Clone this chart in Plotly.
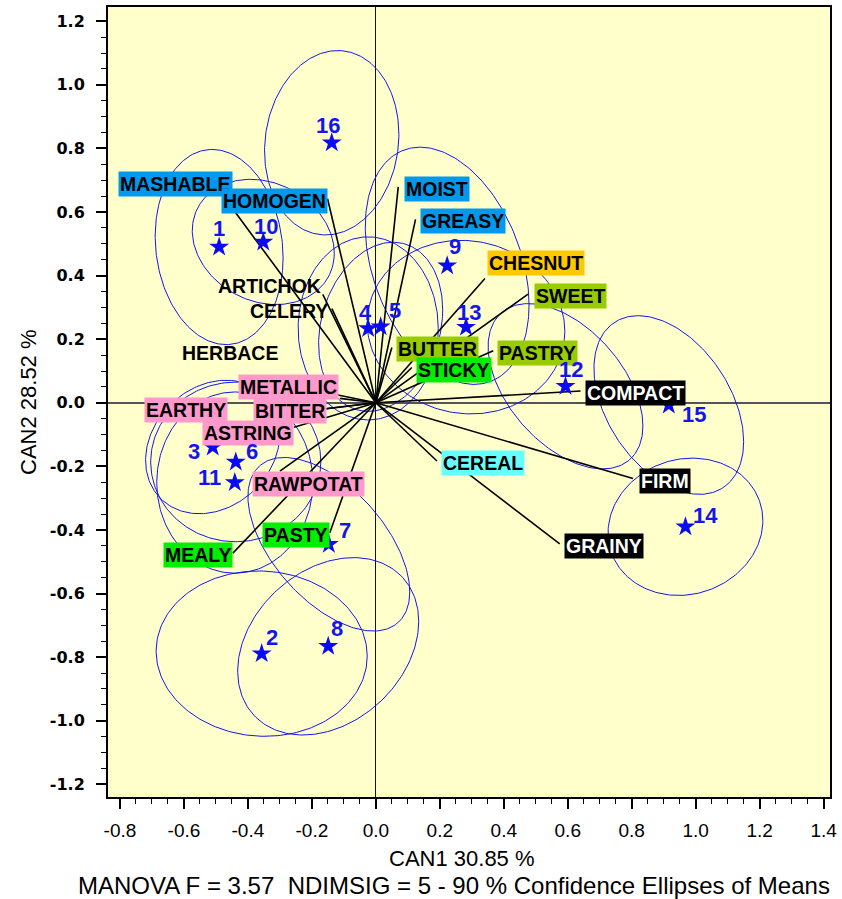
import numpy as np
import plotly.graph_objects as go

# product means on the two canonical axes
products = ['1', '2', '3', '4', '5', '6', '7', '8', '9', '10', '11', '12', '13', '14', '15', '16']
can1 = [-0.490, -0.357, -0.510, -0.024, 0.015, -0.438, -0.147, -0.149,
        0.223, -0.352, -0.441, 0.593, 0.282, 0.968, 0.916, -0.138]
can2 = [0.490, -0.789, -0.139, 0.234, 0.239, -0.186, -0.445, -0.766,
        0.431, 0.506, -0.251, 0.052, 0.238, -0.390, -0.007, 0.818]

# 90 % confidence ellipses: half width (CAN1), half height (CAN2), correlation
ell_w = [0.200, 0.330, 0.210, 0.219, 0.194, 0.266, 0.253, 0.283,
         0.256, 0.222, 0.244, 0.242, 0.309, 0.242, 0.234, 0.210]
ell_h = [0.307, 0.260, 0.210, 0.288, 0.266, 0.251, 0.273, 0.279,
         0.373, 0.197, 0.285, 0.260, 0.273, 0.216, 0.281, 0.290]
ell_r = [-0.11, -0.03, 0.20, 0.00, 0.20, 0.00, -0.55, 0.28,
         -0.33, -0.18, 0.00, -0.48, -0.05, 0.09, -0.41, 0.09]

# sensory attributes (structure coefficients)
attributes = ['MASHABLE', 'HOMOGEN', 'MOIST', 'GREASY', 'CHESNUT', 'SWEET', 'BUTTER',
              'STICKY', 'PASTRY', 'COMPACT', 'FIRM', 'GRAINY', 'CEREAL', 'ARTICHOK',
              'CELERY', 'HERBACE', 'METALLIC', 'BITTER', 'EARTHY', 'ASTRING',
              'RAWPOTAT', 'MEALY', 'PASTY']
vec1 = [-0.467, -0.151, 0.070, 0.124, 0.341, 0.476, 0.050, 0.1125, 0.367, 0.640,
        0.804, 0.575, 0.191, -0.166, -0.1375, -0.2375, -0.1125, -0.153, -0.269,
        -0.256, -0.300, -0.447, -0.144]
vec2 = [0.637, 0.642, 0.679, 0.577, 0.391, 0.342, 0.174, 0.111, 0.164, 0.037,
        -0.238, -0.444, -0.183, 0.341, 0.296, 0.049, 0.014, -0.018, -0.033,
        -0.077, -0.215, -0.473, -0.409]

x_ticks = [-0.8, -0.6, -0.4, -0.2, 0.0, 0.2, 0.4, 0.6, 0.8, 1.0, 1.2, 1.4]
x_labels = ['-0.8', '-0.6', '-0.4', '-0.2', '0.0', '0.2', '0.4', '0.6', '0.8', '1.0', '1.2', '1.4']
y_ticks = [1.2, 1.0, 0.8, 0.6, 0.4, 0.2, 0.0, -0.2, -0.4, -0.6, -0.8, -1.0, -1.2]
y_labels = ['1.2', '1.0', '0.8', '0.6', '0.4', '0.2', '0.0', '-0.2', '-0.4', '-0.6', '-0.8', '-1.0', '-1.2']

x_title = 'CAN1 30.85 %'
y_title = 'CAN2 28.52 %'
caption = 'MANOVA F = 3.57  NDIMSIG = 5 - 90 % Confidence Ellipses of Means'

# label styling
BLUE, ORANGE, OLIVE, GREEN = '#0099EE', '#FFC800', '#99CC00', '#00EE00'
CYAN, PINK, BLACK = '#66FFFF', '#FF99CC', '#000000'
label_bg = {'MASHABLE': BLUE, 'HOMOGEN': BLUE, 'MOIST': BLUE, 'GREASY': BLUE,
            'CHESNUT': ORANGE, 'SWEET': OLIVE, 'BUTTER': OLIVE, 'PASTRY': OLIVE,
            'STICKY': GREEN, 'PASTY': GREEN, 'MEALY': GREEN, 'CEREAL': CYAN,
            'COMPACT': BLACK, 'FIRM': BLACK, 'GRAINY': BLACK,
            'METALLIC': PINK, 'BITTER': PINK, 'EARTHY': PINK, 'ASTRING': PINK,
            'RAWPOTAT': PINK}
# pixel nudges for labels that were moved off their vector tip
label_shift = {'CHESNUT': (2, 15), 'MASHABLE': (7, 16), 'ARTICHOK': (0, 8),
               'CELERY': (-2, -2), 'HERBACE': (-20, 34), 'METALLIC': (-1, 11),
               'EARTHY': (-62, 3), 'ASTRING': (0, -6), 'RAWPOTAT': (-28, -13),
               'MOIST': (6, -2), 'SWEET': (6, -2), 'FIRM': (6, -3)}
num_shift = {'1': (0, 19), '2': (10, 16), '3': (-19, -5), '4': (-3, 16), '5': (14, 16),
             '6': (16, 10), '7': (16, 14), '8': (9, 18), '9': (8, 19), '10': (3, 15),
             '11': (-25, 5), '12': (5, 17), '13': (3, 15), '14': (20, 11), '15': (25, -9),
             '16': (-4, 17)}

LAB_FONT = 'Liberation Sans, Arial, sans-serif'

fig = go.Figure()

# confidence ellipses
t = np.linspace(0, 2 * np.pi, 240)
for cx, cy, w, h, r in zip(can1, can2, ell_w, ell_h, ell_r):
    ex = cx + w * np.cos(t)
    ey = cy + h * (r * np.cos(t) + np.sqrt(1 - r * r) * np.sin(t))
    fig.add_trace(go.Scatter(x=ex, y=ey, mode='lines', hoverinfo='skip',
                             line=dict(color='#1414F0', width=1)))

# attribute vectors
lx, ly = [], []
for a, b in zip(vec1, vec2):
    lx += [0, a, None]
    ly += [0, b, None]
fig.add_trace(go.Scatter(x=lx, y=ly, mode='lines', hoverinfo='skip',
                         line=dict(color='black', width=1.6)))

# product means
fig.add_trace(go.Scatter(x=can1, y=can2, mode='markers', text=products,
                         marker=dict(symbol='star', size=15, color='#0A0AF5',
                                     line=dict(width=0))))

annotations = []
for name, a, b in zip(attributes, vec1, vec2):
    anchor = 'left' if a > 0 else 'right'
    if name == 'RAWPOTAT':
        anchor = 'left'
    dx, dy = label_shift.get(name, (4, -2) if a > 0 else (0, -2))
    bg = label_bg.get(name)
    annotations.append(dict(
        x=a, y=b, text=name, showarrow=False, xanchor=anchor, yanchor='middle',
        xshift=dx, yshift=dy, bgcolor=bg if bg else 'rgba(0,0,0,0)', borderpad=1,
        font=dict(family=LAB_FONT, size=19.5, weight='bold',
                  color='white' if bg == BLACK else 'black')))

for p, a, b in zip(products, can1, can2):
    dx, dy = num_shift[p]
    annotations.append(dict(
        x=a, y=b, text=p, showarrow=False, xanchor='center', yanchor='middle',
        xshift=dx, yshift=dy,
        font=dict(family=LAB_FONT, size=22, weight='bold', color='#1414F0')))

annotations.append(dict(xref='paper', yref='paper', x=0.49, y=0, yshift=-61,
                        xanchor='center', yanchor='middle', showarrow=False, text=x_title,
                        font=dict(family=LAB_FONT, size=22, color='black')))
annotations.append(dict(xref='paper', yref='paper', x=0.479, y=0, yshift=-88,
                        xanchor='center', yanchor='middle', showarrow=False, text=caption,
                        font=dict(family=LAB_FONT, size=24, color='black')))
annotations.append(dict(xref='paper', yref='paper', x=0, y=0.5, xshift=-80,
                        xanchor='center', yanchor='middle', showarrow=False, text=y_title,
                        textangle=-90, font=dict(family=LAB_FONT, size=22, color='black')))

fig.update_layout(
    width=842, height=899,
    margin=dict(l=108, r=12, t=5, b=102),
    paper_bgcolor='white', plot_bgcolor='#FFFFCC',
    showlegend=False,
    annotations=annotations,
    xaxis=dict(range=[-0.8375, 1.42], tickvals=x_ticks, ticktext=x_labels,
               ticks='outside', ticklen=10, tickwidth=1.5, tickcolor='black',
               showline=True, linewidth=2, linecolor='black', mirror=True,
               showgrid=False, zeroline=True, zerolinecolor='#111', zerolinewidth=1,
               ticklabelstandoff=5,
               tickfont=dict(family=LAB_FONT, size=19, color='black'),
               minor=dict(dtick=0.05, tick0=0, ticks='outside', ticklen=5,
                          tickwidth=1, tickcolor='black', showgrid=False)),
    yaxis=dict(range=[-1.24, 1.245], tickvals=y_ticks, ticktext=y_labels,
               ticks='outside', ticklen=10, tickwidth=1.5, tickcolor='black',
               showline=True, linewidth=2, linecolor='black', mirror=True,
               showgrid=False, zeroline=True, zerolinecolor='#555', zerolinewidth=1.5,
               ticklabelstandoff=8,
               tickfont=dict(family='DejaVu Sans', size=16, weight='bold', color='black'),
               minor=dict(dtick=0.05, tick0=0, ticks='outside', ticklen=5,
                          tickwidth=1, tickcolor='black', showgrid=False)),
)

# drop the browser's default page margin so the figure fills the window
fig.write_html("out.html", config={'displayModeBar': False},
               post_script="document.body.style.margin='0';document.body.style.overflow='hidden';")
